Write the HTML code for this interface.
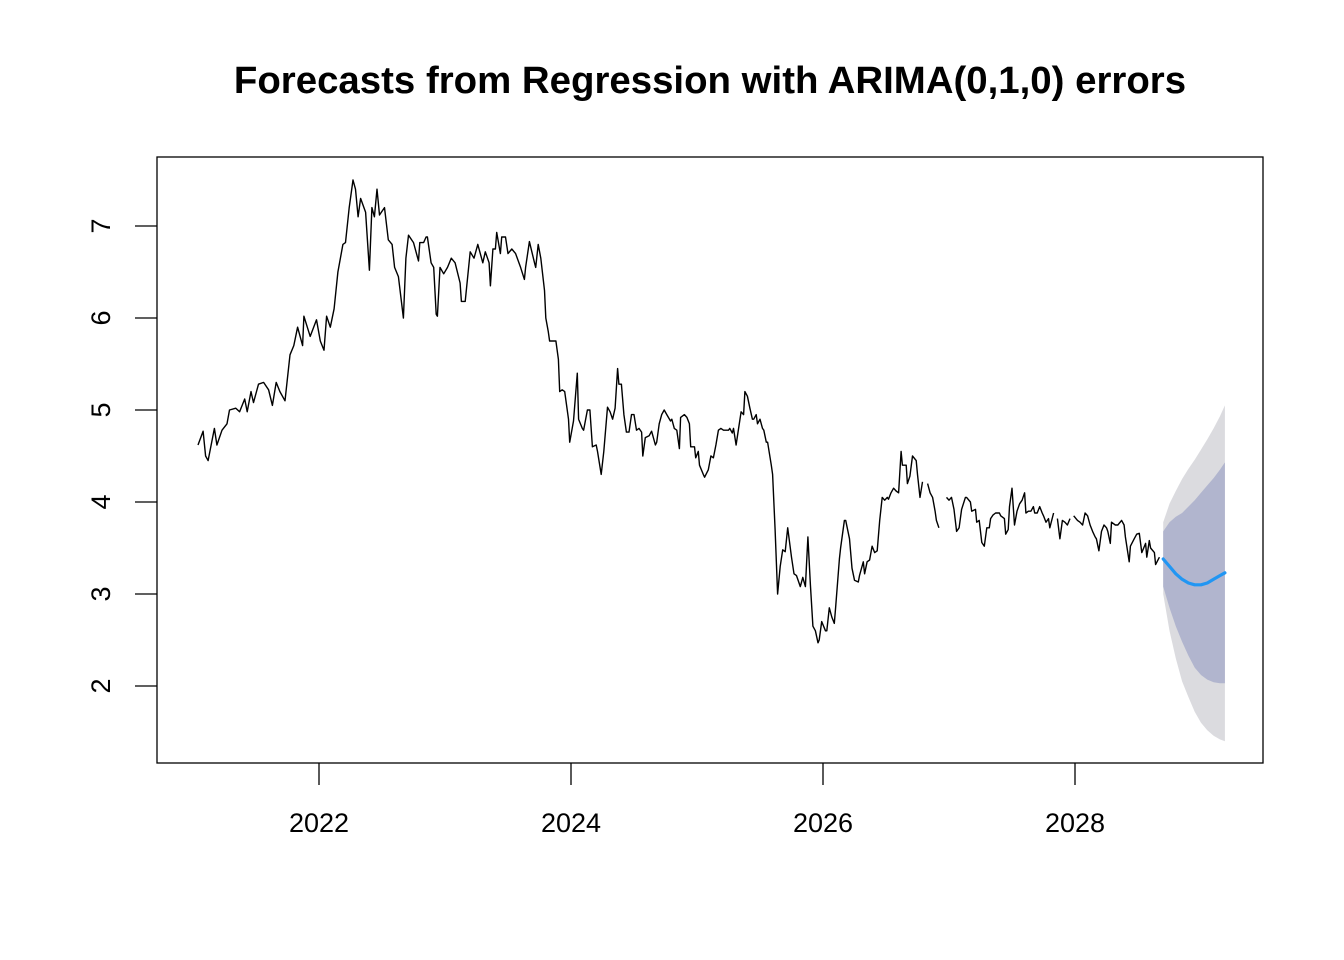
<!DOCTYPE html>
<html><head><meta charset="utf-8"><style>
html,body{margin:0;padding:0;background:#fff;}
svg{display:block;font-family:"Liberation Sans",Arial,sans-serif;}
</style></head><body>
<svg id="chart" width="1344" height="960" viewBox="0 0 1344 960" xmlns="http://www.w3.org/2000/svg">
<text x="710" y="93" text-anchor="middle" font-size="38.4" font-weight="bold">Forecasts from Regression with ARIMA(0,1,0) errors</text>
<g id="bands"></g>
<g id="series"></g>
<rect x="157" y="157" width="1106" height="606" fill="none" stroke="#000" stroke-width="1.3"/>
<g id="axes"></g>
</svg>
<script>
const histTimes=[2021.04,2021.08,2021.10,2021.12,2021.17,2021.19,2021.23,2021.27,2021.29,2021.34,2021.37,2021.41,2021.43,2021.46,2021.48,2021.52,2021.56,2021.60,2021.63,2021.66,2021.69,2021.73,2021.77,2021.80,2021.83,2021.87,2021.88,2021.93,2021.98,2022.01,2022.04,2022.06,2022.09,2022.12,2022.15,2022.19,2022.21,2022.24,2022.27,2022.29,2022.31,2022.33,2022.37,2022.40,2022.42,2022.44,2022.46,2022.48,2022.52,2022.55,2022.58,2022.60,2022.63,2022.67,2022.69,2022.71,2022.75,2022.79,2022.80,2022.83,2022.85,2022.86,2022.89,2022.91,2022.93,2022.94,2022.96,2022.99,2023.02,2023.05,2023.08,2023.12,2023.13,2023.16,2023.20,2023.23,2023.26,2023.30,2023.32,2023.35,2023.36,2023.38,2023.40,2023.41,2023.44,2023.45,2023.48,2023.50,2023.53,2023.56,2023.60,2023.63,2023.64,2023.67,2023.71,2023.72,2023.74,2023.76,2023.79,2023.80,2023.82,2023.83,2023.88,2023.90,2023.91,2023.93,2023.95,2023.98,2023.99,2024.02,2024.05,2024.06,2024.09,2024.10,2024.13,2024.15,2024.17,2024.20,2024.21,2024.24,2024.26,2024.29,2024.31,2024.33,2024.35,2024.37,2024.38,2024.40,2024.42,2024.44,2024.46,2024.48,2024.50,2024.52,2024.54,2024.56,2024.57,2024.59,2024.62,2024.64,2024.67,2024.68,2024.70,2024.72,2024.74,2024.76,2024.79,2024.80,2024.82,2024.84,2024.86,2024.87,2024.90,2024.92,2024.94,2024.95,2024.98,2024.99,2025.01,2025.02,2025.05,2025.06,2025.09,2025.11,2025.13,2025.15,2025.17,2025.19,2025.21,2025.25,2025.26,2025.28,2025.29,2025.31,2025.33,2025.35,2025.37,2025.38,2025.40,2025.42,2025.44,2025.45,2025.47,2025.48,2025.50,2025.52,2025.53,2025.55,2025.56,2025.59,2025.60,2025.62,2025.64,2025.66,2025.68,2025.70,2025.72,2025.75,2025.77,2025.79,2025.82,2025.84,2025.86,2025.88,2025.90,2025.92,2025.94,2025.96,2025.97,2025.99,2026.02,2026.03,2026.05,2026.07,2026.09,2026.10,2026.13,2026.14,2026.17,2026.18,2026.21,2026.23,2026.25,2026.28,2026.29,2026.32,2026.33,2026.35,2026.37,2026.39,2026.41,2026.43,2026.45,2026.47,2026.49,2026.51,2026.52,2026.54,2026.56,2026.58,2026.60,2026.62,2026.63,2026.66,2026.67,2026.69,2026.71,2026.74,2026.75,2026.77,2026.79,2026.83,2026.85,2026.87,2026.89,2026.90,2026.92,2026.98,2027.00,2027.02,2027.04,2027.06,2027.08,2027.10,2027.13,2027.14,2027.17,2027.18,2027.21,2027.22,2027.24,2027.26,2027.28,2027.30,2027.32,2027.33,2027.35,2027.37,2027.40,2027.41,2027.44,2027.45,2027.47,2027.48,2027.50,2027.52,2027.54,2027.56,2027.58,2027.60,2027.61,2027.63,2027.65,2027.67,2027.68,2027.70,2027.72,2027.74,2027.75,2027.77,2027.79,2027.80,2027.83,2027.86,2027.88,2027.90,2027.92,2027.94,2027.96,2027.99,2028.02,2028.04,2028.06,2028.08,2028.10,2028.12,2028.14,2028.16,2028.17,2028.19,2028.21,2028.23,2028.25,2028.26,2028.28,2028.29,2028.32,2028.34,2028.37,2028.39,2028.40,2028.43,2028.44,2028.47,2028.49,2028.51,2028.53,2028.56,2028.57,2028.59,2028.60,2028.63,2028.64,2028.67];
const histValues=[4.62,4.77,4.5,4.45,4.8,4.62,4.78,4.85,5.0,5.02,4.98,5.12,4.98,5.2,5.08,5.28,5.3,5.22,5.05,5.3,5.2,5.1,5.6,5.7,5.9,5.7,6.02,5.8,5.98,5.75,5.65,6.02,5.9,6.1,6.5,6.8,6.82,7.2,7.5,7.4,7.1,7.3,7.15,6.52,7.2,7.1,7.4,7.12,7.2,6.85,6.8,6.55,6.45,6.0,6.65,6.9,6.82,6.62,6.82,6.82,6.88,6.88,6.6,6.55,6.04,6.02,6.55,6.48,6.55,6.65,6.6,6.38,6.18,6.18,6.72,6.65,6.8,6.6,6.72,6.6,6.35,6.75,6.75,6.93,6.7,6.88,6.88,6.7,6.75,6.7,6.55,6.42,6.55,6.83,6.6,6.55,6.8,6.65,6.3,6.0,5.85,5.75,5.75,5.55,5.2,5.22,5.2,4.9,4.65,4.88,5.4,4.9,4.8,4.78,5.0,5.0,4.6,4.62,4.55,4.3,4.55,5.03,4.98,4.9,5.02,5.45,5.28,5.28,4.95,4.76,4.76,4.95,4.95,4.78,4.8,4.76,4.5,4.7,4.72,4.77,4.62,4.65,4.85,4.95,5.0,4.95,4.88,4.9,4.8,4.78,4.58,4.92,4.95,4.92,4.85,4.6,4.6,4.48,4.55,4.4,4.3,4.27,4.35,4.5,4.48,4.62,4.78,4.8,4.78,4.78,4.8,4.75,4.8,4.62,4.8,4.98,4.95,5.2,5.15,5.02,4.9,4.9,4.95,4.85,4.9,4.8,4.78,4.65,4.65,4.4,4.3,3.7,3.0,3.3,3.48,3.46,3.72,3.4,3.22,3.2,3.08,3.18,3.08,3.62,3.1,2.65,2.6,2.47,2.5,2.7,2.6,2.6,2.85,2.75,2.68,2.85,3.38,3.5,3.8,3.8,3.6,3.28,3.15,3.13,3.2,3.35,3.22,3.35,3.37,3.52,3.45,3.47,3.8,4.05,4.02,4.05,4.03,4.1,4.15,4.12,4.1,4.55,4.4,4.4,4.2,4.28,4.5,4.45,4.3,4.05,4.22,null,4.2,4.1,4.05,3.9,3.8,3.72,null,4.05,4.02,4.05,3.92,3.68,3.72,3.92,4.05,4.05,4.0,3.9,3.92,3.78,3.8,3.56,3.52,3.72,3.72,3.82,3.86,3.88,3.88,3.85,3.82,3.65,3.7,3.95,4.15,3.75,3.9,3.98,4.02,4.1,3.88,3.9,3.9,3.95,3.88,3.88,3.95,3.88,3.85,3.78,3.82,3.72,3.88,null,3.82,3.6,3.8,3.78,3.75,3.82,null,3.85,3.8,3.78,3.75,3.88,3.85,3.75,3.68,3.62,3.6,3.47,3.68,3.75,3.72,3.68,3.55,3.78,3.75,3.75,3.8,3.75,3.62,3.35,3.52,3.6,3.65,3.66,3.45,3.55,3.4,3.58,3.5,3.45,3.32,3.4];
const fcTimes=[2028.70,2028.75,2028.80,2028.85,2028.90,2028.95,2029.00,2029.05,2029.10,2029.15,2029.19];
const fcMean=[3.38,3.30,3.22,3.16,3.12,3.10,3.10,3.12,3.16,3.20,3.23];
const fcLo80=[3.08,2.85,2.65,2.48,2.33,2.20,2.12,2.07,2.04,2.03,2.03];
const fcHi80=[3.68,3.78,3.84,3.88,3.95,4.02,4.10,4.18,4.26,4.35,4.43];
const fcLo95=[3.0,2.6,2.3,2.05,1.88,1.72,1.6,1.52,1.46,1.42,1.40];
const fcHi95=[3.78,3.98,4.12,4.25,4.36,4.46,4.57,4.68,4.80,4.93,5.05];
const xTicks=[2022,2024,2026,2028];
const yTicks=[2,3,4,5,6,7];

const NS='http://www.w3.org/2000/svg';
const xS=t=>319+(t-2022)*126;
const yS=v=>686-(v-2)*92;
function mk(tag,attrs,parent){const e=document.createElementNS(NS,tag);for(const k in attrs)e.setAttribute(k,attrs[k]);parent.appendChild(e);return e;}

const times=[];let ti=0;
for(let i=0;i<histValues.length;i++){ if(histValues[i]===null){times.push(null);} else {times.push(histTimes[ti]);ti++;} }

const bands=document.getElementById('bands');
function band(lo,hi,color,name){
  let d='M'+fcTimes.map((t,i)=>xS(t).toFixed(1)+','+yS(hi[i]).toFixed(1)).join('L');
  for(let i=fcTimes.length-1;i>=0;i--) d+='L'+xS(fcTimes[i]).toFixed(1)+','+yS(lo[i]).toFixed(1);
  const p=mk('path',{d:d+'Z',fill:color},bands);
  
  
}
band(fcLo95,fcHi95,'#DBDBDF','interval-95');
band(fcLo80,fcHi80,'#B1B5CE','interval-80');

const series=document.getElementById('series');
let segs=[],cur=[];
for(let i=0;i<histValues.length;i++){
  if(histValues[i]===null||times[i]===undefined){ if(cur.length)segs.push(cur); cur=[]; }
  else cur.push(xS(times[i]).toFixed(1)+','+yS(histValues[i]).toFixed(1));
}
if(cur.length)segs.push(cur);
segs.forEach(s=>{
  const pl=mk('polyline',{points:s.join(' '),fill:'none',stroke:'#000','stroke-width':1.4,'stroke-linejoin':'round'},series);
  
  
});
const fl=mk('polyline',{points:fcTimes.map((t,i)=>xS(t).toFixed(1)+','+yS(fcMean[i]).toFixed(1)).join(' '),fill:'none',stroke:'#2196F3','stroke-width':3.2,'stroke-linecap':'round','stroke-linejoin':'round'},series);



const axes=document.getElementById('axes');
xTicks.forEach(t=>{
  const x=xS(t);
  const l=mk('line',{x1:x,x2:x,y1:763,y2:785,stroke:'#000','stroke-width':1.3},axes);
  
  
  const tx=mk('text',{x:x,y:832,'text-anchor':'middle','font-size':27},axes);
  tx.textContent=t;
  
  
});
yTicks.forEach(v=>{
  const y=yS(v);
  const l=mk('line',{x1:135,x2:157,y1:y,y2:y,stroke:'#000','stroke-width':1.3},axes);
  
  
  const tx=mk('text',{x:110,y:y,'text-anchor':'middle','font-size':27,transform:'rotate(-90 110 '+y+')'},axes);
  tx.textContent=v;
  
  
});
</script>
</body></html>
